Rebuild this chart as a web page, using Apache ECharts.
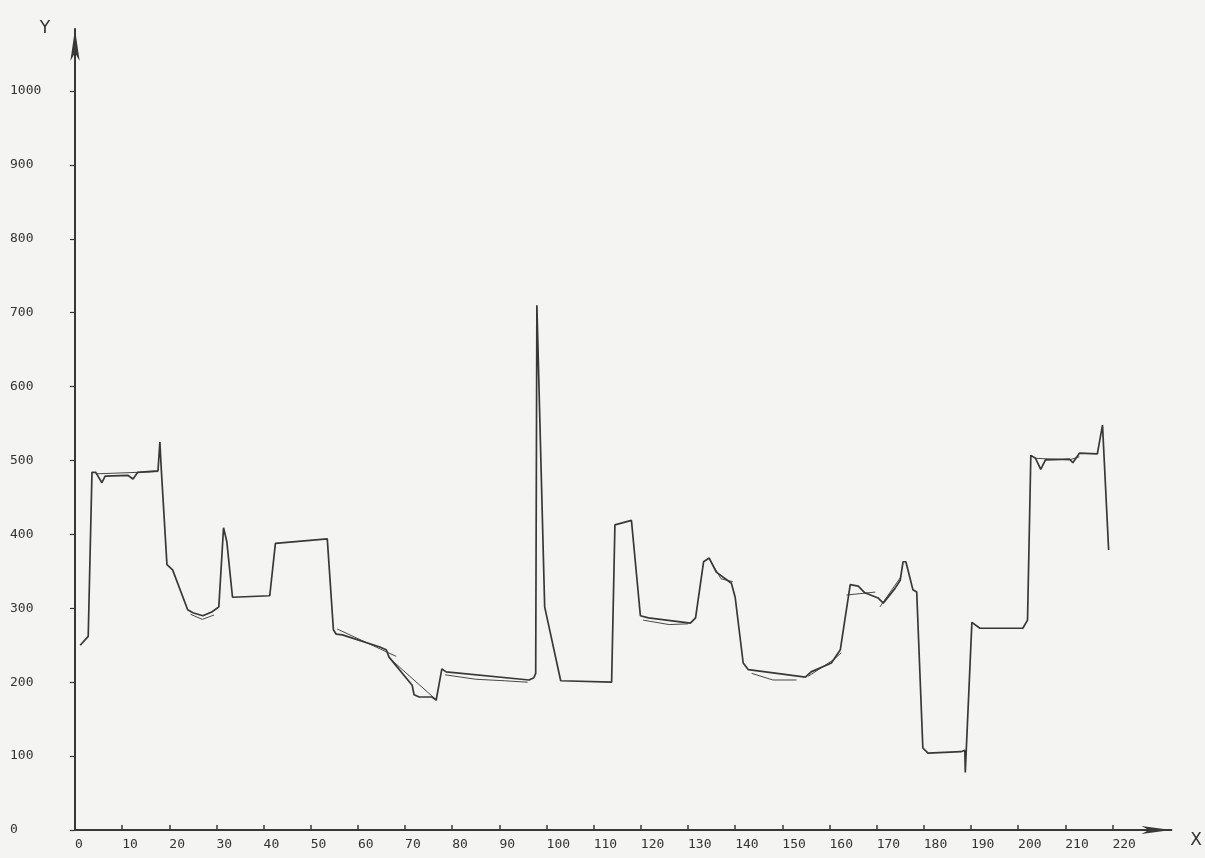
<!DOCTYPE html>
<html>
<head>
<meta charset="utf-8">
<script src="https://cdn.jsdelivr.net/npm/echarts@6/dist/echarts.min.js"></script>
<style>
html,body{margin:0;padding:0;background:#f4f4f2;}
#chart{width:1205px;height:858px;}
</style>
</head>
<body>
<div id="chart"></div>
<script>
// Tick labels
const xTicks = [0,10,20,30,40,50,60,70,80,90,100,110,120,130,140,150,160,170,180,190,200,210,220];
const yTicks = [0,100,200,300,400,500,600,700,800,900,1000];

// Measured curve (thick line)
const measuredX = [1.1,2.8,3.6,4.4,5.7,6.4,11.2,12.3,13.3,17.6,
  18.0,18.3,19.5,20.7,23.9,25.0,27.1,29.0,30.5,31.5,
  32.2,33.4,41.3,42.5,53.5,54.8,55.4,56.7,64.5,66.0,
  66.6,71.5,71.9,73.0,75.7,76.6,77.8,78.7,96.3,97.3,
  97.7,97.95,99.6,103.0,113.8,114.5,118.0,119.9,121.6,130.5,
  131.6,133.3,134.5,136.0,139.2,140.0,141.7,142.8,154.9,156.1,
  160.4,162.3,164.4,166.1,167.5,170.3,171.4,173.9,175.0,175.6,
  176.2,177.7,178.5,179.8,180.9,187.9,188.7,188.8,190.2,191.9,
  201.0,202.0,202.7,203.7,204.8,205.8,210.9,211.6,213.0,216.8,
  217.9,219.2];
const measuredY = [250,262,484,484,470,479,480,475,484,486,
  525,488,359,352,298,294,290,295,302,409,
  390,315,317,388,394,271,265,264,248,244,
  234,196,183,180,180,176,218,214,203,206,
  212,710,302,202,200,413,419,290,287,280,
  287,363,368,349,334,315,226,217,207,214,
  226,244,332,330,321,314,307,327,338,363,
  363,325,322,111,104,106,108,78,281,273,
  273,284,507,503,488,501,502,497,510,509,
  548,379];

// Fitted straight pieces (thin line), null = gap between pieces
const fitX = [4.4,17.6,null,24.5,27.0,29.5,null,55.6,68.1,null,66.8,76.8,null,
  78.5,85.0,91.0,96.0,null,120.5,126.0,130.0,null,134.6,137.0,139.5,null,
  143.5,148.0,153.0,null,155.5,161.0,162.5,null,163.6,169.7,null,170.7,175.2,null,
  203.7,210.9,213.0];
const fitY = [482,485,null,292,285,291,null,272,235,null,232,175,null,
  210,204,202,200,null,284,278,279,null,366,340,336,null,
  212,203,203,null,208,231,240,null,318,322,null,302,343,null,
  503,501,505];

const measuredData = measuredX.map((x, i) => [x, measuredY[i]]);
const fitData = fitX.map((x, i) => fitY[i] == null ? ['-', '-'] : [x, fitY[i]]);

const ink = '#383838';
const labelFont = {fontFamily: 'DejaVu Sans Mono', fontSize: 13, color: '#333333', formatter: v => String(v)};

const chart = echarts.init(document.getElementById('chart'), null, {renderer: 'canvas'});
chart.setOption({
  backgroundColor: '#f4f4f2',
  animation: false,
  grid: {left: 75, right: 31, top: 29, bottom: 28, containLabel: false},
  xAxis: {
    type: 'value', min: 0, max: 232.5,
    name: 'X', nameLocation: 'end', nameGap: 19,
    nameTextStyle: {fontFamily: 'DejaVu Sans', fontSize: 17, color: '#333333', verticalAlign: 'top', padding: [2, 0, 0, 0]},
    axisLine: {show: true, symbol: ['none', 'arrow'], symbolSize: [6, 30], lineStyle: {color: ink, width: 2}},
    axisTick: {show: true, inside: true, length: 5, customValues: xTicks, lineStyle: {color: ink, width: 1.5}},
    axisLabel: Object.assign({customValues: xTicks, align: 'left', margin: 8}, labelFont),
    splitLine: {show: false}
  },
  yAxis: {
    type: 'value', min: 0, max: 1084,
    name: 'Y', nameLocation: 'end', nameGap: -8,
    nameTextStyle: {fontFamily: 'DejaVu Sans', fontSize: 17, color: '#333333', padding: [0, 60, 0, 0]},
    axisLine: {show: true, symbol: ['none', 'arrow'], symbolSize: [7, 32], lineStyle: {color: ink, width: 2}},
    axisTick: {show: true, length: 5, customValues: yTicks, lineStyle: {color: ink, width: 1.2}},
    axisLabel: Object.assign({customValues: yTicks, align: 'left', margin: 65}, labelFont),
    splitLine: {show: false}
  },
  series: [
    {
      type: 'line', name: 'measured', data: measuredData,
      showSymbol: false, symbol: 'none',
      lineStyle: {color: ink, width: 1.7},
      z: 3
    },
    {
      type: 'line', name: 'fit', data: fitData,
      showSymbol: false, symbol: 'none', connectNulls: false,
      lineStyle: {color: '#484848', width: 1},
      z: 2
    }
  ]
});
</script>
</body>
</html>
